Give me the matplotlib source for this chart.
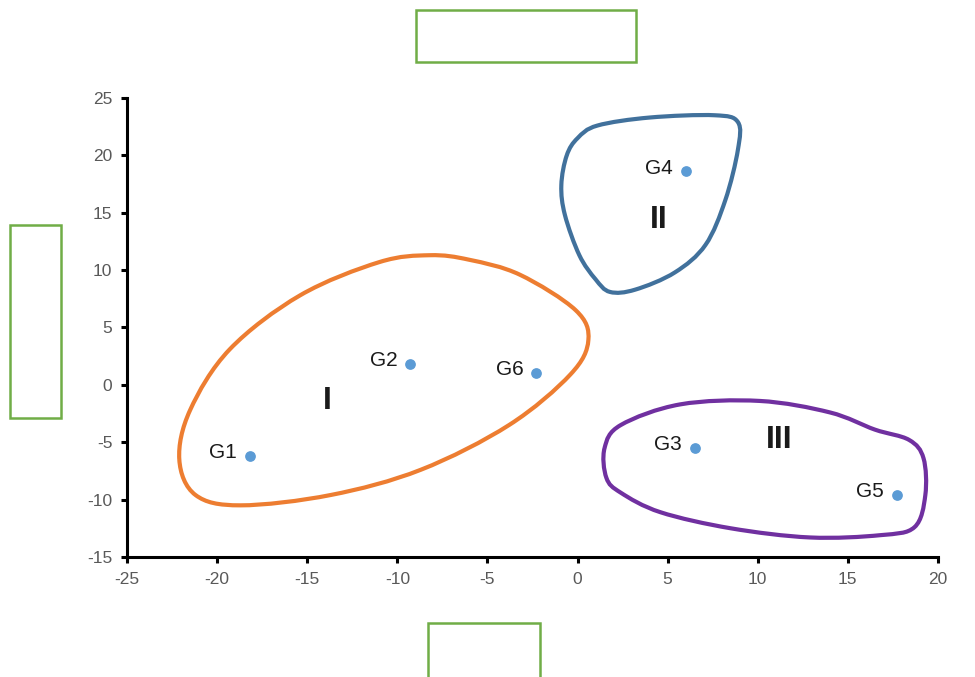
import numpy as np
import matplotlib
matplotlib.use("Agg")
import matplotlib.pyplot as plt
from matplotlib.path import Path
from matplotlib.patches import PathPatch, Rectangle

# points
names = ["G1", "G2", "G3", "G4", "G5", "G6"]
xs = [-18.2, -9.3, 6.5, 6.0, 17.7, -2.3]
ys = [-6.2, 1.8, -5.5, 18.6, -9.6, 1.0]

# cluster outlines (data coords, closed)
c1_x = [-22.1, -21.2, -18.7, -13.7, -8.7, -3.8, -0.4, 0.6, -0.1, -3.2, -6.0, -8.2, -11.0, -15.4, -19.3, -21.5]
c1_y = [-6.5, -9.6, -10.5, -9.6, -7.4, -3.5, 0.9, 3.9, 6.5, 9.6, 10.9, 11.3, 10.7, 7.8, 3.1, -2.2]
c2_x = [-0.6, 0.0, 1.1, 4.0, 7.6, 8.9, 8.9, 8.2, 7.1, 5.4, 3.2, 1.8, 1.0, 0.1, -0.7, -0.9]
c2_y = [20.0, 21.5, 22.6, 23.3, 23.5, 22.9, 20.5, 16.1, 12.2, 9.8, 8.3, 8.1, 9.2, 11.3, 14.8, 17.4]
c3_x = [1.5, 2.4, 5.7, 10.1, 14.0, 16.5, 18.4, 19.2, 19.3, 18.7, 16.8, 12.9, 8.5, 4.6, 2.4, 1.6]
c3_y = [-5.5, -3.5, -1.7, -1.4, -2.4, -3.9, -4.8, -6.4, -9.6, -12.4, -13.1, -13.3, -12.5, -11.1, -9.4, -8.1]

groups = ["I", "II", "III"]
group_x = [-13.9, 4.5, 11.2]
group_y = [-1.4, 14.4, -4.8]


def closed_path(px, py):
    pts = np.column_stack([px, py])
    n = len(pts)
    verts = [pts[0]]
    codes = [Path.MOVETO]
    for i in range(n):
        p0, p1, p2, p3 = pts[i - 1], pts[i], pts[(i + 1) % n], pts[(i + 2) % n]
        verts += [p1 + (p2 - p0) / 6, p2 - (p3 - p1) / 6, p2]
        codes += [Path.CURVE4] * 3
    return Path(verts, codes)


plt.rcParams["font.family"] = ["Liberation Sans", "DejaVu Sans"]
plt.rcParams["axes.unicode_minus"] = False
fig = plt.figure(figsize=(9.75, 6.77), dpi=100)
ax = fig.add_axes([0.1303, 0.1773, 0.8317, 0.6779])

for cx, cy, col in [(c1_x, c1_y, "#ED7D31"), (c2_x, c2_y, "#41719C"), (c3_x, c3_y, "#7030A0")]:
    ax.add_patch(PathPatch(closed_path(cx, cy), facecolor="none", edgecolor=col, lw=3.0))

ax.scatter(xs, ys, s=45, color="#5B9BD5", zorder=3)
for n, x, y in zip(names, xs, ys):
    ax.text(x - 0.7, y + 0.3, n, ha="right", va="center", fontsize=15, color="#1a1a1a")
for g, x, y in zip(groups, group_x, group_y):
    ax.text(x, y, g, ha="center", va="center", fontsize=23, fontweight="bold", color="#1a1a1a")

ax.set_xlim(-25, 20)
ax.set_ylim(-15, 25)
ax.set_xticks(range(-25, 21, 5))
ax.set_yticks(range(-15, 26, 5))
for s in ["top", "right"]:
    ax.spines[s].set_visible(False)
for s in ["left", "bottom"]:
    ax.spines[s].set_linewidth(2.2)
    ax.spines[s].set_color("black")
ax.tick_params(direction="out", length=4.5, width=2.2, color="black",
               labelsize=12.5, labelcolor="#595959", pad=6)

# empty placeholder boxes
box_px = [(416, 10, 220, 52), (10, 225, 51, 193), (428, 623, 112, 60)]
for bx, by, bw, bh in box_px:
    fig.add_artist(Rectangle((bx / 975, 1 - (by + bh) / 677), bw / 975, bh / 677,
                             transform=fig.transFigure, facecolor="none",
                             edgecolor="#70AD47", lw=1.8))

fig.savefig("out.png", dpi=100)
